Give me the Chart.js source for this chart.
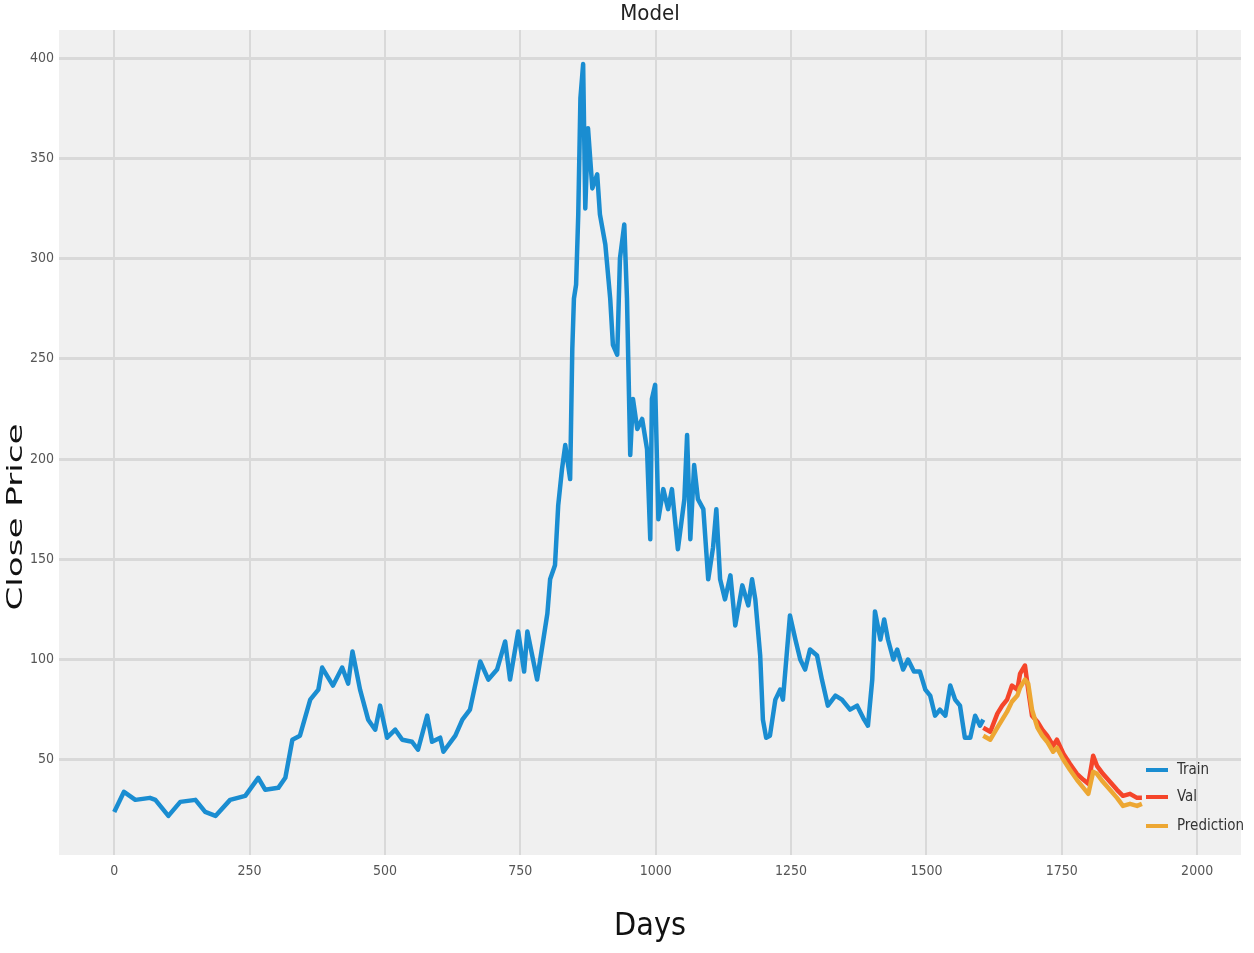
<!DOCTYPE html>
<html>
<head>
<meta charset="utf-8">
<title>Model</title>
<script src="https://cdn.jsdelivr.net/npm/chart.js@4/dist/chart.umd.min.js"></script>
<style>
  html, body { margin: 0; padding: 0; background: #ffffff; }
  #wrap { width: 1254px; height: 953px; position: relative; }
</style>
</head>
<body>
<div id="wrap"><canvas id="modelChart"></canvas></div>
<script>
// Close price by day: train part, validation part and model prediction
const trainDays = [0, 18, 39, 66, 76, 100, 122, 150, 168, 187, 214, 242, 266, 279, 303, 316, 329, 343, 362, 377,
  384, 404, 421, 432, 440, 454, 469, 482, 491, 504, 519, 532, 550, 561, 578, 587, 602, 608, 630, 643,
  657, 676, 691, 707, 722, 731, 746, 757, 763, 781, 800, 805, 814, 820, 827, 833, 842, 846, 849, 853,
  857, 861, 866, 870, 875, 883, 892, 897, 907, 916, 921, 929, 934, 942, 947, 953, 958, 966, 975, 984,
  990, 993, 999, 1005, 1014, 1023, 1030, 1041, 1053, 1058, 1064, 1071, 1078, 1088, 1097, 1106, 1112, 1119, 1128, 1138,
  1147, 1160, 1171, 1178, 1184, 1193, 1198, 1204, 1211, 1221, 1230, 1235, 1248, 1258, 1267, 1276, 1285, 1298, 1307, 1318,
  1332, 1344, 1359, 1372, 1385, 1392, 1400, 1405, 1415, 1422, 1429, 1439, 1446, 1457, 1466, 1477, 1488, 1498, 1507, 1516,
  1525, 1535, 1544, 1553, 1562, 1571, 1581, 1590, 1599, 1605];
const trainClose = [24, 34, 30, 31, 30, 22, 29, 30, 24, 22, 30, 32, 41, 35, 36, 41, 60, 62, 80, 85,
  96, 87, 96, 88, 104, 85, 70, 65, 77, 61, 65, 60, 59, 55, 72, 59, 61, 54, 62, 70,
  75, 99, 90, 95, 109, 90, 114, 94, 114, 90, 123, 140, 147, 177, 195, 207, 190, 255, 280, 287,
  322, 380, 397, 325, 365, 335, 342, 322, 307, 280, 257, 252, 300, 317, 280, 202, 230, 215, 220, 205,
  160, 230, 237, 170, 185, 175, 185, 155, 180, 212, 160, 197, 180, 175, 140, 156, 175, 140, 130, 142,
  117, 137, 127, 140, 130, 102, 70, 61, 62, 80, 85, 80, 122, 110, 100, 95, 105, 102, 90, 77,
  82, 80, 75, 77, 70, 67, 90, 124, 110, 120, 110, 100, 105, 95, 100, 94, 94, 85, 82, 72,
  75, 72, 87, 80, 77, 61, 61, 72, 67, 70];

const valDays = [1605, 1618, 1631, 1640, 1649, 1658, 1668, 1673, 1682, 1688, 1695, 1705, 1714, 1723, 1734,
  1741, 1753, 1765, 1778, 1790, 1799, 1808, 1815, 1826, 1839, 1852, 1863, 1876, 1889, 1898];
const valClose = [66, 64, 73, 77, 80, 87, 85, 93, 97, 85, 72, 69, 65, 62, 57,
  60, 53, 48, 43, 40, 38, 52, 47, 43, 39, 35, 32, 33, 31, 31];
const predClose = [62, 60, 66, 70, 74, 79, 82, 86, 90, 88, 75, 66, 62, 59, 54,
  56, 50, 45, 40, 36, 33, 44, 43, 39, 35, 31, 27, 28, 27, 28];

const xTicks = [0, 250, 500, 750, 1000, 1250, 1500, 1750, 2000];
const yTicks = [50, 100, 150, 200, 250, 300, 350, 400];

const toPoints = (days, vals) => days.map((d, i) => ({ x: d, y: vals[i] }));

const narrow = "'Liberation Sans Narrow', 'DejaVu Sans Condensed', sans-serif";

// grey plot background like the fivethirtyeight style
const plotBackground = {
    id: "plotBackground",
    beforeDraw(chart) {
        const a = chart.chartArea;
        const c = chart.ctx;
        c.save();
        c.fillStyle = "#f0f0f0";
        c.fillRect(a.left, a.top, a.right - a.left, a.bottom - a.top);
        c.restore();
    }
};

// legend sits in the lower right corner, inside the plot; y label is stretched like the source
const extraText = {
    id: "extraText",
    afterDraw(chart) {
        const c = chart.ctx;
        const rows = [770, 797, 826];
        c.save();
        chart.data.datasets.forEach((ds, i) => {
            c.strokeStyle = ds.borderColor;
            c.lineWidth = 4;
            c.beginPath();
            c.moveTo(1146, rows[i]);
            c.lineTo(1168, rows[i]);
            c.stroke();
            c.fillStyle = "#333";
            c.font = "15px " + narrow;
            c.textBaseline = "middle";
            c.fillText(ds.label, 1177, rows[i]);
        });
        c.restore();

        c.save();
        c.translate(16, 517);
        c.rotate(-Math.PI / 2);
        c.scale(1.55, 1);
        c.font = "22px 'DejaVu Sans', sans-serif";
        c.fillStyle = "#111";
        c.textAlign = "center";
        c.textBaseline = "middle";
        c.fillText("Close Price", 0, 0);
        c.restore();
    }
};

const ctx = document.getElementById("modelChart").getContext("2d");
new Chart(ctx, {
    type: "line",
    data: {
        datasets: [
            { label: "Train", data: toPoints(trainDays, trainClose), borderColor: "#1a8dd1", borderWidth: 4.5, order: 3 },
            { label: "Val", data: toPoints(valDays, valClose), borderColor: "#f5452a", borderWidth: 4.5, order: 2 },
            { label: "Prediction", data: toPoints(valDays, predClose), borderColor: "#eda733", borderWidth: 4.5, order: 1 }
        ]
    },
    options: {
        responsive: true,
        maintainAspectRatio: false,
        animation: false,
        layout: { padding: { left: 0, right: 13, top: 0, bottom: 0 } },
        elements: { point: { radius: 0 }, line: { tension: 0, borderJoinStyle: "round" } },
        plugins: {
            legend: { display: false },
            tooltip: { enabled: false }
        },
        scales: {
            x: {
                type: "linear",
                min: -102,
                max: 2081,
                afterBuildTicks: s => { s.ticks = xTicks.map(v => ({ value: v })); },
                afterFit: s => { s.height = 98; },
                grid: { color: "#d9d9d9", lineWidth: 2, drawTicks: false },
                border: { display: false },
                ticks: { color: "#555", padding: 8, maxRotation: 0, font: { family: narrow, size: 14 }, callback: v => String(v) },
                title: {
                    display: true,
                    text: "Days",
                    color: "#111",
                    font: { family: narrow, size: 32 },
                    padding: { top: 0, bottom: 7 }
                }
            },
            // empty top axis only carries the "Model" title over the plot centre
            top: {
                type: "linear",
                position: "top",
                min: -102,
                max: 2081,
                afterFit: s => { s.height = 30; },
                grid: { display: false, drawTicks: false },
                border: { display: false },
                ticks: { display: false },
                title: {
                    display: true,
                    text: "Model",
                    color: "#222",
                    font: { family: narrow, size: 22 },
                    padding: { top: 1, bottom: 0 }
                }
            },
            y: {
                min: 2.5,
                max: 414,
                afterBuildTicks: s => { s.ticks = yTicks.map(v => ({ value: v })); },
                afterFit: s => { s.width = 59; },
                grid: { color: "#d9d9d9", lineWidth: 3, drawTicks: false },
                border: { display: false },
                ticks: { color: "#555", padding: 5, font: { family: narrow, size: 14 } },
                title: { display: false }
            }
        }
    },
    plugins: [plotBackground, extraText]
});
</script>
</body>
</html>
